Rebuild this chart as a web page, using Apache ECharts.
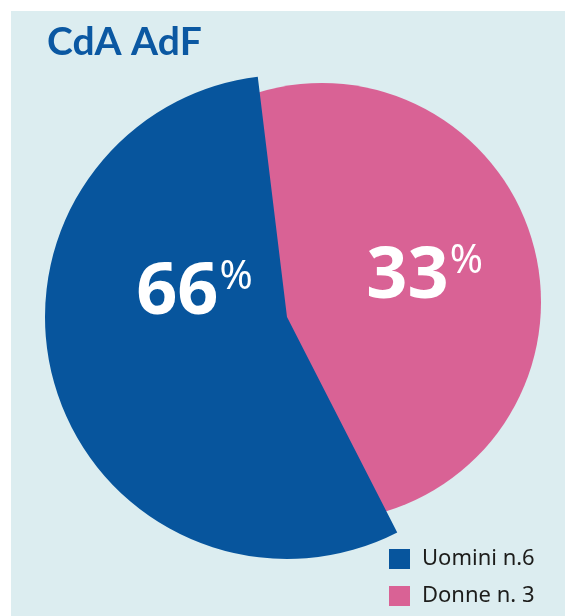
<!DOCTYPE html>
<html lang="it">
<head>
	<meta charset="UTF-8">
	<title>CdA AdF</title>
	<style>
		html, body { margin: 0; padding: 0; background: #ffffff; }
		#main { position: absolute; left: 11px; top: 11px; width: 554px; height: 605px; }
	</style>
</head>
<body>
	<div id="main"></div>
	<script src="https://cdn.jsdelivr.net/npm/echarts@6/dist/echarts.min.js"></script>
	<script>
		// dati
		var categories = ['Uomini n.6', 'Donne n. 3'];
		var shares = [55.6, 44.4];          // ampiezza delle fette come disegnate
		var pctLabels = ['66', '33'];
		var colors = ['#07559d', '#d96295'];

		var myChart = echarts.init(document.getElementById('main'));

		var labelOffsets = [[26, -60], [19, -3]];

		myChart.setOption({
			backgroundColor: '#dcedf0',
			animation: false,
			title: {
				text: 'CdA AdF',
				left: 36,
				top: 12,
				padding: 0,
				textStyle: {
					fontFamily: 'Lato',
					fontWeight: 'bold',
					fontSize: 39,
					color: '#0b58a2'
				}
			},
			legend: {
				orient: 'vertical',
				left: 378,
				top: 537,
				padding: 0,
				itemWidth: 21,
				itemHeight: 20,
				itemGap: 15,
				icon: 'rect',
				selectedMode: false,
				textStyle: {
					fontFamily: 'Noto Sans',
					fontSize: 22,
					color: '#1d1d1b',
					padding: [0, 0, 0, 7]
				},
				data: categories.map(function (c, i) {
					return { name: c, itemStyle: { color: colors[i] } };
				})
			},
			series: [
				{
					// disco rosa sotto
					type: 'pie',
					silent: true,
					z: 1,
					center: [311, 291],
					radius: 219,
					label: { show: false },
					labelLine: { show: false },
					data: [{ name: categories[1], value: shares[1], itemStyle: { color: colors[1] } }]
				},
				{
					type: 'pie',
					silent: true,
					z: 2,
					center: [276, 306],
					radius: 242,
					startAngle: 297.1,
					clockwise: true,
					labelLine: { show: false },
					data: categories.map(function (c, i) {
						return {
							name: c,
							value: shares[i],
							itemStyle: { color: i === 0 ? colors[0] : 'rgba(0,0,0,0)' },
							label: {
								show: true,
								position: 'inside',
								offset: labelOffsets[i],
								formatter: '{num|' + pctLabels[i] + '}{pct|%}',
								rich: {
									num: {
										fontFamily: 'Noto Sans',
										fontStyle: 'condensed',
										fontWeight: 'bold',
										fontSize: 72,
										lineHeight: 72,
										color: '#ffffff'
									},
									pct: {
										fontFamily: 'Noto Sans',
										fontStyle: 'condensed',
										fontSize: 40,
										lineHeight: 50,
										verticalAlign: 'top',
										padding: [0, 0, 0, 1],
										color: '#ffffff'
									}
								}
							}
						};
					})
				}
			]
		});
	</script>
</body>
</html>
